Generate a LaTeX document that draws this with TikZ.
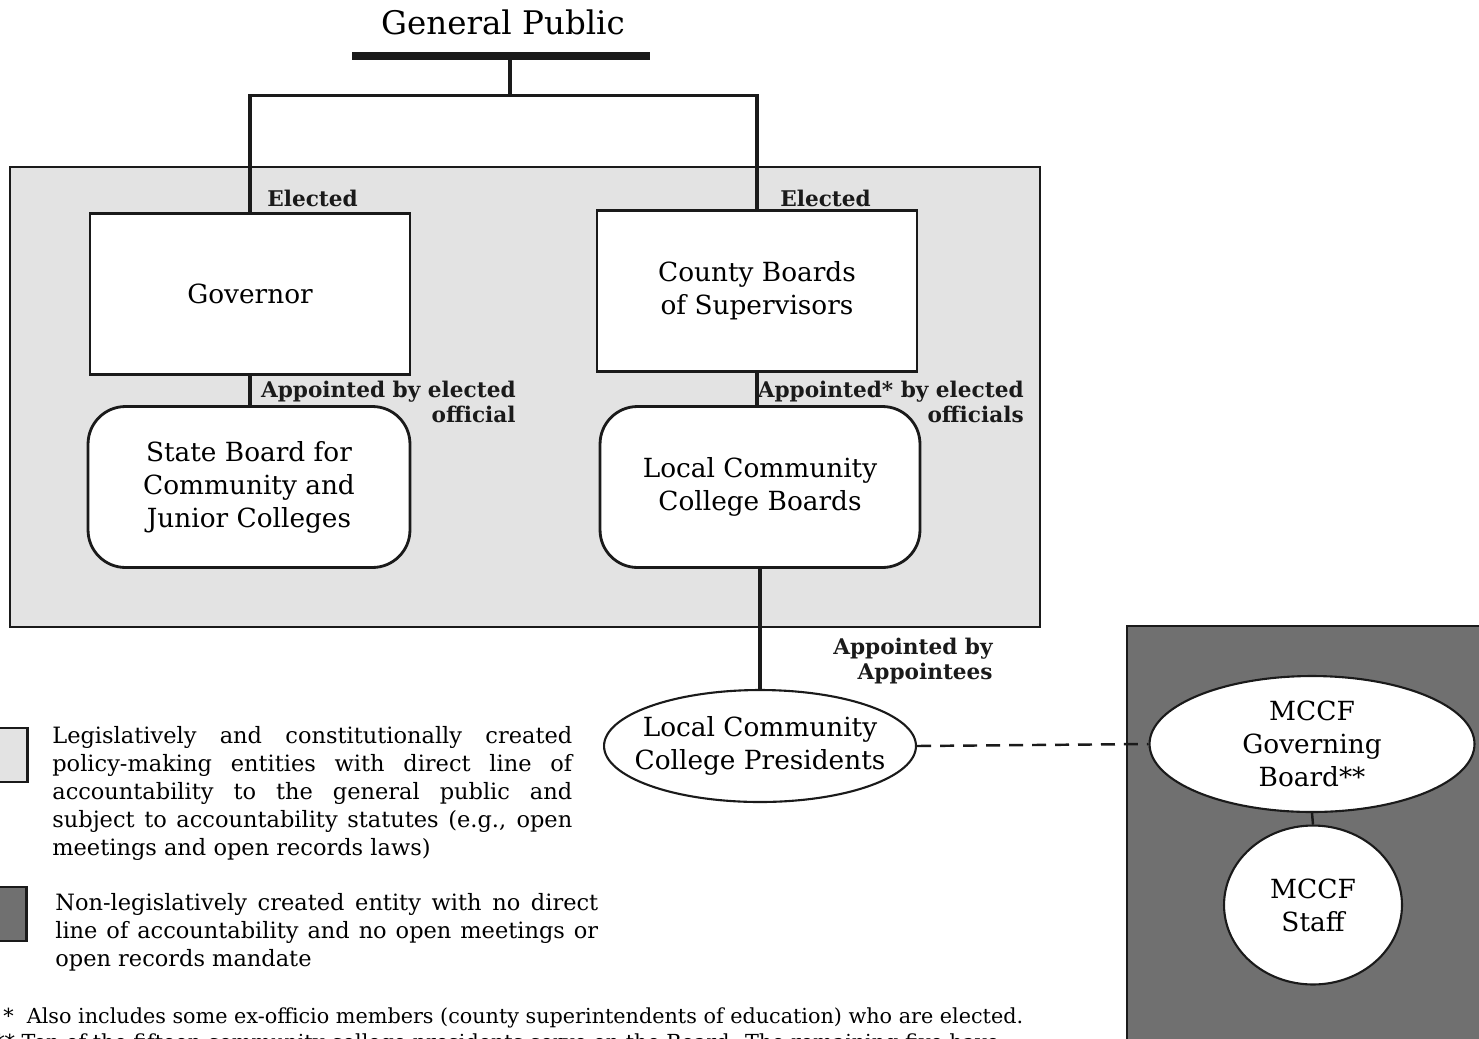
\documentclass[tikz,border=0pt]{standalone}
\usepackage{fontspec}
\setmainfont{DejaVu Serif}
\usetikzlibrary{positioning, shapes.geometric}
\definecolor{policyGray}{HTML}{E3E3E3}
\definecolor{privateGray}{HTML}{707070}
\definecolor{inkBlack}{HTML}{1A1A1A}

\begin{document}
\begin{tikzpicture}[x=0.02cm, y=-0.02cm,
    box/.style={rectangle, draw=inkBlack, line width=1.6pt, fill=white,
                minimum width=6.4cm, minimum height=3.22cm, align=center,
                font=\fontsize{15}{18.8}\selectfont},
    roundbox/.style={box, rounded corners=0.75cm},
    oval/.style={ellipse, draw=inkBlack, line width=1.2pt, fill=white,
                 inner sep=0pt, align=center, font=\fontsize{15}{18.8}\selectfont},
    tag/.style={inner sep=0pt, align=right, text=inkBlack,
                font=\bfseries\fontsize{12.3}{14.2}\selectfont},
    link/.style={draw=inkBlack, line width=2pt},
    keybox/.style={rectangle, draw=inkBlack, line width=1.4pt,
                   minimum width=0.9cm, minimum height=1.08cm},
    keytext/.style={inner sep=0pt, align=justify, anchor=north west,
                    font=\fontsize{12.8}{15.9}\selectfont},
    note/.style={anchor=base west, inner sep=0pt, font=\fontsize{11.8}{13}\selectfont},
  ]
    \useasboundingbox (0,0) rectangle (1479,1038);
    \clip (0,0) rectangle (1479,1038);

    % ─── Shaded areas ───
    \draw[draw=inkBlack, line width=0.9pt, fill=policyGray] (10,167) rectangle (1040,627);
    \draw[draw=inkBlack, line width=0.9pt, fill=privateGray] (1127,626) rectangle (1500,1060);

    % ─── Top: general public ───
    \node[font=\fontsize{18.5}{22}\selectfont] (public) at (503,22) {General Public};
    \node[rectangle, fill=inkBlack, inner sep=0pt, minimum width=5.96cm,
          minimum height=0.16cm] (bar) at (501,56) {};

    % ─── Elected officials ───
    \node[box] (gov) at (250,294) {Governor};
    \node[box] (county) at (757,291) {County Boards\\of Supervisors};

    % ─── Boards ───
    \node[roundbox, minimum width=6.44cm] (stateboard) at (249,487)
      {State Board for\\Community and\\Junior Colleges};
    \node[roundbox] (lccb) at (760,487) {Local Community\\College Boards};

    % ─── Presidents and MCCF ───
    \node[oval, inner xsep=-0.6cm, minimum width=6.24cm, minimum height=2.24cm]
      (presidents) at (760,746) {Local Community\\College Presidents};
    \node[oval, minimum width=6.5cm, minimum height=2.72cm] (mccfboard) at (1312,744)
      {MCCF\\Governing\\Board**};
    \node[oval, minimum width=3.56cm, minimum height=3.18cm] (mccfstaff) at (1313,905)
      {MCCF\\Staff};

    % Links
    \draw[link] (bar.south) ++(9,0) -- ++(0,35) coordinate (fork);
    \draw[link] (gov.north) |- (fork) -| (county.north);
    \draw[link] (gov.south) -- (gov.south |- stateboard.north);
    \draw[link] (county.south) -- (county.south |- lccb.north);
    \draw[link] (lccb.south) -- (presidents.north);
    \draw[link, line width=1.4pt, dash pattern=on 0.28cm off 0.18cm]
      (presidents.east) -- (mccfboard.west);
    \draw[link, line width=1.4pt] (mccfboard.south) -- (mccfstaff.north);

    % Link labels
    \node[tag, anchor=base west] (electedL) at (267,206) {Elected};
    \node[tag, anchor=base west] (electedR) at (780,206) {Elected};
    \node[tag, anchor=north east] (apptL) at (516,381) {Appointed by elected\\official};
    \node[tag, anchor=north east] (apptR) at (1024,381) {Appointed* by elected\\officials};
    \node[tag, anchor=north east] (apptP) at (993,638) {Appointed by\\Appointees};

    % ─── Key ───
    \node[keybox, fill=policyGray] (keypolicy) at (5,755) {};
    \node[keytext, text width=10.4cm] (keypolicytext) at (52,726)
      {Legislatively and constitutionally created\linebreak
       policy-making entities with direct line of\linebreak
       accountability to the general public and\linebreak
       subject to accountability statutes (e.g., open\linebreak
       meetings and open records laws)};
    \node[keybox, fill=privateGray] (keyprivate) at (4,914) {};
    \node[keytext, text width=10.86cm] (keyprivatetext) at (55,893)
      {Non-legislatively created entity with no direct\linebreak
       line of accountability and no open meetings or\linebreak
       open records mandate};

    % ─── Footnotes ───
    \node[note] (noteone) at (3,1023)
      {*\ \ Also includes some ex-officio members (county superintendents of education) who are elected.};
    \node[note] (notetwo) at (-6,1049)
      {**\ Ten of the fifteen community college presidents serve on the Board. The remaining five have};
  \end{tikzpicture}
\end{document}
